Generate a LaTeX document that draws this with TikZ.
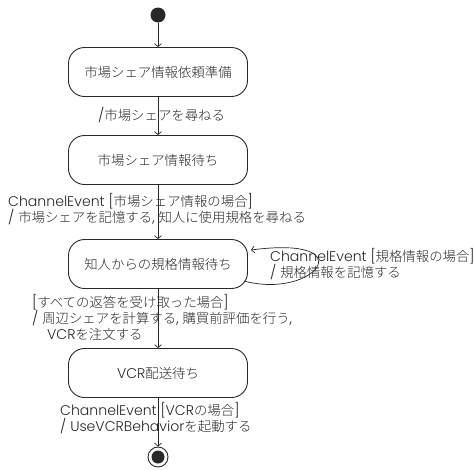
\documentclass[tikz,border=0pt]{standalone}
\usepackage{fontspec}
\setmainfont{Noto Sans CJK JP}[UprightFont = * Light]
\newfontfamily\latfont{Poppins}[UprightFont = * Light, Scale = 1.05]
\newcommand{\lat}[1]{{\latfont #1}}
\usepackage{tikz}
\usetikzlibrary{arrows.meta}
\definecolor{dgray}{RGB}{40, 40, 40}
\tikzset{
	state/.style = {draw = dgray, line width = 0.9pt, rounded corners = 16pt, minimum width = 179pt, minimum height = 49pt, font = \fontsize{13.4}{16}\selectfont},
	lab/.style = {anchor = west, align = left, inner sep = 0pt, font = \fontsize{13.4}{16}\selectfont},
	trans/.style = {draw = dgray, line width = 0.7pt, -{Straight Barb[length = 3pt, width = 7pt]}}
}

\begin{document}
\begin{tikzpicture}[x = 1pt, y = -1pt, color = dgray]
			\useasboundingbox (0,0) rectangle (474,469);
			\node (s) at (158,15) [circle, fill = dgray, minimum size = 15pt, inner sep = 0pt] {};
			\node (a) at (158,72) [state] {市場シェア情報依頼準備};
			\node (b) at (158,160) [state] {市場シェア情報待ち};
			\node (c) at (158,264) [state] {知人からの規格情報待ち};
			\node (d) at (158,373) [state] {\lat{VCR}配送待ち};
			\node (e) at (158,457) [circle, draw = dgray, line width = 0.9pt, minimum size = 20pt, inner sep = 0pt] {};
			\node at (e) [circle, fill = dgray, minimum size = 13pt, inner sep = 0pt] {};
			\node (l1) at (98,115) [lab] {\lat{/}市場シェアを尋ねる};
			\node (l2) at (8,209) [lab] {\lat{ChannelEvent [}市場シェア情報の場合\lat{]}\\\lat{/ }市場シェアを記憶する\lat{, }知人に使用規格を尋ねる};
			\node (l3) at (270,264) [lab] {\lat{ChannelEvent [}規格情報の場合\lat{]}\\\lat{/ }規格情報を記憶する};
			\node (l4) at (32,317) [lab] {\lat{[}すべての返答を受け取った場合\lat{]}\\\lat{/ }周辺シェアを計算する\lat{, }購買前評価を行う\lat{,}\\\hspace{15pt}\lat{VCR}を注文する};
			\node (l5) at (60,418) [lab] {\lat{ChannelEvent [VCR}の場合\lat{]}\\\lat{/ UseVCRBehavior}を起動する};
			\coordinate (cout) at (244,281);
			\coordinate (cin) at (251,250);
			\draw[trans] (s) -- (a);
			\draw[trans] (a) -- (b);
			\draw[trans] (b) -- (c);
			\draw[trans] (c) -- (d);
			\draw[trans] (d) -- (e);
			\draw[trans] (cout) .. controls (315,300) and (365,235) .. (cin);
			\end{tikzpicture}
\end{document}
